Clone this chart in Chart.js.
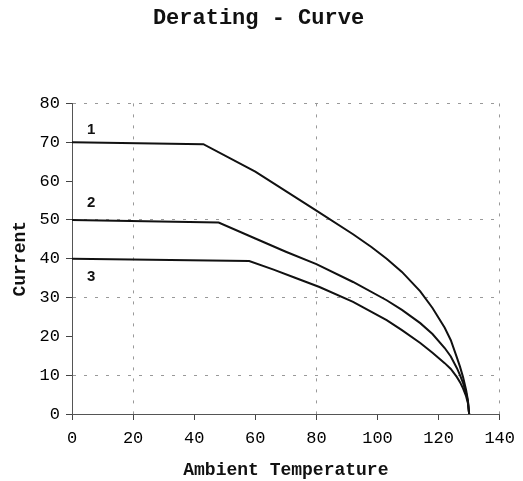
<!DOCTYPE html>
<html>
<head>
<meta charset="utf-8">
<title>Derating - Curve</title>
<script src="https://cdn.jsdelivr.net/npm/chart.js@4/dist/chart.umd.min.js"></script>
<style>
  html, body { margin: 0; padding: 0; background: #fff; }
  #wrap { width: 523px; height: 481px; }
</style>
</head>
<body>
<div id="wrap"><canvas id="grafico"></canvas></div>
<script>
// Datos (temperatura ambiente -> corriente)
const temps1 = [0, 43, 60, 80, 92, 98, 103, 108, 114, 118, 122, 124, 126, 127, 128, 129, 129.6, 130];
const current1 = [70, 69.5, 62.4, 52.4, 46.3, 43.0, 40.0, 36.6, 31.6, 27.3, 22.2, 19.0, 14.5, 12.2, 9.5, 6.2, 3.5, 0];

const temps2 = [0, 48, 60, 70, 80, 92, 103, 108, 114, 118, 122, 124, 126, 127, 128, 129, 129.6, 130];
const current2 = [50, 49.3, 45.2, 41.8, 38.6, 34.0, 29.3, 26.8, 23.4, 20.6, 17.0, 14.8, 11.8, 10.0, 8.0, 5.4, 3.2, 0];

const temps3 = [0, 58, 66, 73, 81, 92, 103, 108, 114, 118, 122, 124, 126, 127, 128, 129, 129.6, 130];
const current3 = [40, 39.4, 37.2, 35.1, 32.7, 28.9, 24.2, 21.6, 18.3, 15.8, 13.1, 11.6, 9.5, 8.2, 6.6, 4.6, 2.8, 0];

const curveNames = ["1", "2", "3"];
// donde va cada numero (temperatura, corriente)
const nameTemps = [6.3, 6.3, 6.3];
const nameCurrents = [73.3, 54.5, 35.4];

const xGridAt = [20, 80, 140];
const yGridAt = [10, 30, 50, 80];

function toPoints(xs, ys) {
  return xs.map((x, i) => ({ x: x, y: ys[i] }));
}

const mono = "'Liberation Mono', 'Courier New', monospace";

// numeros 1, 2, 3 al lado de cada curva
const curveNumbers = {
  id: "curveNumbers",
  afterDatasetsDraw(chart) {
    const { ctx, scales } = chart;
    ctx.save();
    ctx.fillStyle = "#111";
    ctx.font = "bold 15px 'Liberation Sans', Arial, sans-serif";
    ctx.textAlign = "center";
    ctx.textBaseline = "middle";
    curveNames.forEach((name, i) => {
      ctx.fillText(name, scales.x.getPixelForValue(nameTemps[i]), scales.y.getPixelForValue(nameCurrents[i]));
    });
    ctx.restore();
  },
};

const lineStyle = {
  borderColor: "#111",
  borderWidth: 2,
  pointRadius: 0,
  tension: 0,
  fill: false,
};

new Chart(document.getElementById("grafico"), {
  type: "line",
  data: {
    datasets: [
      { label: "1", data: toPoints(temps1, current1), ...lineStyle },
      { label: "2", data: toPoints(temps2, current2), ...lineStyle },
      { label: "3", data: toPoints(temps3, current3), ...lineStyle },
    ],
  },
  options: {
    responsive: true,
    maintainAspectRatio: false,
    animation: false,
    layout: { padding: { left: 2, right: 8, top: 0, bottom: 0 } },
    plugins: {
      legend: { display: false },
      tooltip: { enabled: false },
      title: {
        display: true,
        text: "Derating - Curve",
        color: "#111",
        font: { family: mono, size: 22, weight: "bold" },
        padding: { top: 5, bottom: 72 },
      },
    },
    scales: {
      x: {
        type: "linear",
        min: 0,
        max: 140,
        ticks: {
          stepSize: 10,
          color: "#000",
          padding: 8,
          maxRotation: 0,
          font: { family: mono, size: 17 },
          callback: (v) => (v % 20 === 0 ? v : ""),
        },
        grid: {
          color: (c) => (xGridAt.includes(c.tick && c.tick.value) ? "#999" : "rgba(0,0,0,0)"),
          tickColor: "#444",
          tickLength: 6,
          lineWidth: 1,
        },
        border: { display: true, color: "#555", width: 1, dash: [3, 8] },
        title: {
          display: true,
          text: "Ambient Temperature",
          color: "#111",
          font: { family: mono, size: 18, weight: "bold" },
          padding: { top: 3, bottom: 0 },
        },
      },
      y: {
        min: 0,
        max: 80,
        ticks: {
          stepSize: 5,
          color: "#000",
          padding: 6,
          font: { family: mono, size: 17 },
          callback: (v) => (v % 10 === 0 ? v : ""),
        },
        grid: {
          color: (c) => (yGridAt.includes(c.tick && c.tick.value) ? "#999" : "rgba(0,0,0,0)"),
          tickColor: "#444",
          tickLength: 6,
          lineWidth: 1,
        },
        border: { display: true, color: "#555", width: 1, dash: [3, 8] },
        title: {
          display: true,
          text: "Current",
          color: "#111",
          font: { family: mono, size: 18, weight: "bold" },
          padding: { top: 8, bottom: 2 },
        },
      },
    },
  },
  plugins: [curveNumbers],
});
</script>
</body>
</html>
